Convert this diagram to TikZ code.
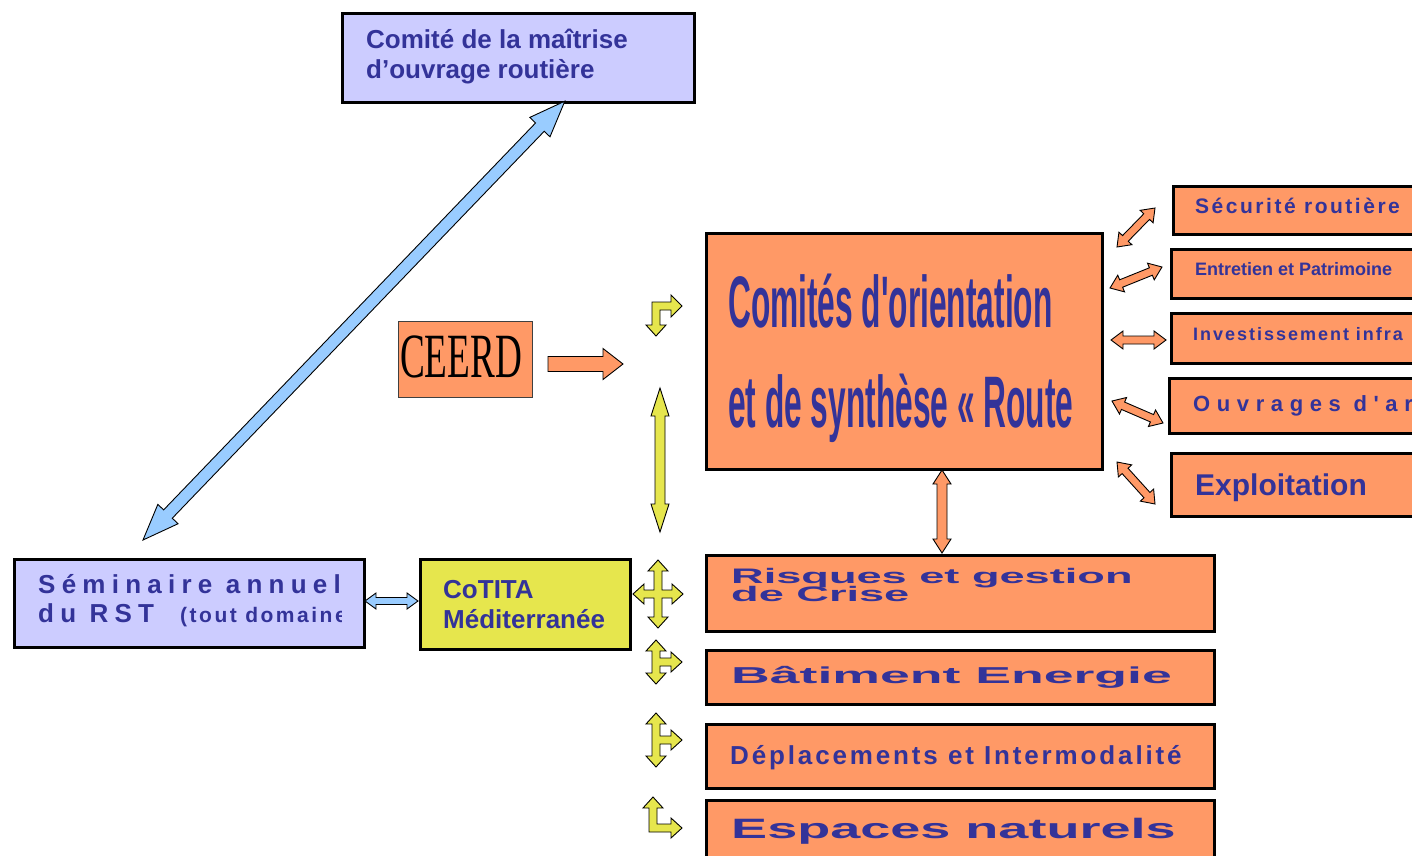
\documentclass[tikz,border=0pt]{standalone}
\usepackage{fontspec}
\usepackage{graphicx}
\setmainfont{Liberation Sans}[Ligatures=TeXOff]
\newfontfamily\ceerdfont{Liberation Serif}
\usetikzlibrary{calc}

\definecolor{boxorange}{RGB}{255,153,102}
\definecolor{boxlilac}{RGB}{204,204,255}
\definecolor{boxyellow}{RGB}{230,230,77}
\definecolor{arrowblue}{RGB}{153,204,255}
\definecolor{textblue}{RGB}{51,51,153}

\newcommand{\fsz}[1]{\fontsize{#1}{#1}\selectfont}
\newcommand{\ls}[1]{\addfontfeature{LetterSpace=#1}}

% block arrows between two named coordinates
\newcommand{\arrowsetup}[3]{%
  \pgfpointdiff{\pgfpointanchor{#1}{center}}{\pgfpointanchor{#2}{center}}%
  \pgfgetlastxy{\bax}{\bay}%
  \pgfmathsetmacro{\baang}{atan2(\bay,\bax)}%
  \pgfmathsetmacro{\balen}{veclen(\bax,\bay)}%
  \pgfmathsetmacro{\babase}{\balen-#3}}
\newcommand{\dblarrow}[6]{% style, from, to, shaft half width, head half width, head length
  \arrowsetup{#2}{#3}{#6}%
  \draw[#1, shift={(#2)}, rotate=\baang] (0pt,0pt) -- (#6pt,#5pt) -- (#6pt,#4pt)
    -- (\babase pt,#4pt) -- (\babase pt,#5pt) -- (\balen pt,0pt) -- (\babase pt,-#5pt)
    -- (\babase pt,-#4pt) -- (#6pt,-#4pt) -- (#6pt,-#5pt) -- cycle;}
\newcommand{\sglarrow}[6]{%
  \arrowsetup{#2}{#3}{#6}%
  \draw[#1, shift={(#2)}, rotate=\baang] (0pt,#4pt) -- (\babase pt,#4pt)
    -- (\babase pt,#5pt) -- (\balen pt,0pt) -- (\babase pt,-#5pt)
    -- (\babase pt,-#4pt) -- (0pt,-#4pt) -- cycle;}

\tikzset{
  cbox/.style={draw=black, line width=2.5pt, inner sep=0pt, anchor=north west},
  orangebox/.style={cbox, fill=boxorange},
  lilacbox/.style={cbox, fill=boxlilac},
  yellowbox/.style={cbox, fill=boxyellow},
  txt/.style={anchor=base west, inner sep=0pt, text=textblue},
  blockarr/.style={draw=black, line width=0.9pt, line join=miter},
  orangearr/.style={blockarr, fill=boxorange},
  bluearr/.style={blockarr, fill=arrowblue},
  yellowarr/.style={blockarr, fill=boxyellow},
}

\begin{document}
\begin{tikzpicture}[x=1pt, y=-1pt]
\useasboundingbox (0,0) rectangle (1412,855);
\clip (0,0) rectangle (1412,855);

% boxes
\node[lilacbox, minimum width=352pt, minimum height=89pt] (cmor) at (341,12) {};
\node[lilacbox, minimum width=350pt, minimum height=88pt] (sem) at (13,558) {};
\node[yellowbox, minimum width=210pt, minimum height=90pt] (cotita) at (419,558) {};
\node[orangebox, draw=black!75, line width=1pt, minimum width=134pt, minimum height=76pt] (ceerd) at (398,321) {};
\node[orangebox, minimum width=396pt, minimum height=236pt] (route) at (705,232) {};
\node[orangebox, minimum width=260pt, minimum height=48pt] (secu) at (1172,185) {};
\node[orangebox, minimum width=260pt, minimum height=49pt] (entr) at (1170,248) {};
\node[orangebox, minimum width=260pt, minimum height=50pt] (inv) at (1170,312) {};
\node[orangebox, minimum width=260pt, minimum height=55pt] (ouv) at (1168,377) {};
\node[orangebox, minimum width=260pt, minimum height=63pt] (expl) at (1170,452) {};
\node[orangebox, minimum width=508pt, minimum height=76pt] (risq) at (705,554) {};
\node[orangebox, minimum width=508pt, minimum height=54pt] (bat) at (705,649) {};
\node[orangebox, minimum width=508pt, minimum height=64pt] (depl) at (705,723) {};
\node[orangebox, minimum width=508pt, minimum height=80pt] (esp) at (705,799) {};

% texts
\node[txt, font=\fsz{26}\bfseries] (cmorA) at (366,48) {Comité de la maîtrise};
\node[txt, font=\fsz{26}\bfseries] (cmorB) at (366,78) {d’ouvrage routière};
\begin{scope}
  \clip (13,558) rectangle (341,646);
  \node[txt, font=\fsz{26}\bfseries] (semA) at (38,593) {\ls{24}Séminaire annuel};
  \node[txt, font=\fsz{26}\bfseries] (semB) at (38,622) {\ls{24}du RST};
  \node[txt, font=\fsz{21}\bfseries] (semC) at (180,622) {\ls{12}(tout domaine)};
\end{scope}
\node[txt, font=\fsz{26}\bfseries] (cotA) at (443,598) {CoTITA};
\node[txt, font=\fsz{26}\bfseries] (cotB) at (443,628) {Méditerranée};
\node[txt, text=black, font=\fsz{63}\ceerdfont] (ceerdT) at (400,377) {\scalebox{0.59}[1]{CEERD}};
\node[txt, font=\fsz{73}\bfseries] (routeA) at (728,327) {\scalebox{0.434}[1]{Comités d'orientation}};
\node[txt, font=\fsz{73}\bfseries] (routeB) at (728,427) {\scalebox{0.434}[1]{et de synthèse « Route}};
\node[txt, font=\fsz{21}\bfseries] (secuT) at (1195,213) {\ls{12}Sécurité routière};
\node[txt, font=\fsz{18}\bfseries] (entrT) at (1195,275) {Entretien et Patrimoine};
\node[txt, font=\fsz{18}\bfseries] (invT) at (1193,340) {\ls{11}Investissement infra};
\node[txt, font=\fsz{22}\bfseries] (ouvT) at (1193,411) {\ls{30}Ouvrages d'art};
\node[txt, font=\fsz{30}\bfseries] (explT) at (1195,495) {Exploitation};
\node[txt, font=\fsz{21}\bfseries] (risqA) at (731,583) {\scalebox{2.15}[1]{Risques et gestion}};
\node[txt, font=\fsz{21}\bfseries] (risqB) at (731,601) {\scalebox{2.15}[1]{de Crise}};
\node[txt, font=\fsz{23}\bfseries] (batT) at (731,683) {\scalebox{2.33}[1]{Bâtiment Energie}};
\node[txt, font=\fsz{26}\bfseries] (deplT) at (730,764) {\ls{11}Déplacements et Intermodalité};
\node[txt, font=\fsz{28}\bfseries] (espT) at (731,838) {\scalebox{1.93}[1]{Espaces naturels}};

% arrow ends
\coordinate (semTip) at (143,540);
\coordinate (cmorTip) at (565,101);
\coordinate (semR) at (365,601);
\coordinate (cotL) at (418,601);
\coordinate (ceerdTail) at (548,364);
\coordinate (ceerdHead) at (623,364);
\coordinate (yTop) at (660,388);
\coordinate (yBot) at (660,532);
\coordinate (routeS) at (942,470);
\coordinate (risqN) at (942,553);
\coordinate (r1a) at (1117,247); \coordinate (r1b) at (1155,208);
\coordinate (r2a) at (1110,288); \coordinate (r2b) at (1162,267);
\coordinate (r3a) at (1111,340); \coordinate (r3b) at (1166,340);
\coordinate (r4a) at (1112,401); \coordinate (r4b) at (1163,423);
\coordinate (r5a) at (1117,462); \coordinate (r5b) at (1155,504);

% connectors
\dblarrow{bluearr}{semTip}{cmorTip}{6}{14}{36}
\dblarrow{bluearr}{semR}{cotL}{3.5}{8}{11}
\sglarrow{orangearr}{ceerdTail}{ceerdHead}{7.5}{15.5}{20}
\dblarrow{yellowarr}{yTop}{yBot}{5}{9}{28}
\dblarrow{orangearr}{routeS}{risqN}{5}{9}{14}
\dblarrow{orangearr}{r1a}{r1b}{4}{9}{12}
\dblarrow{orangearr}{r2a}{r2b}{4}{9}{12}
\dblarrow{orangearr}{r3a}{r3b}{4}{9}{12}
\dblarrow{orangearr}{r4a}{r4b}{4}{9}{12}
\dblarrow{orangearr}{r5a}{r5b}{4}{9}{12}

% yellow bent and branching arrows
\draw[yellowarr] (682,306) -- (671,317) -- (671,310) -- (660,310) -- (660,325) -- (666,325)
  -- (656,336) -- (646,325) -- (652,325) -- (652,302) -- (671,302) -- (671,295) -- cycle;
\draw[yellowarr, shift={(658,594)}] (0,-34) -- (10,-23) -- (4,-23) -- (4,-4) -- (14,-4)
  -- (14,-10) -- (25,0) -- (14,10) -- (14,4) -- (4,4) -- (4,23) -- (10,23) -- (0,34)
  -- (-10,23) -- (-4,23) -- (-4,4) -- (-14,4) -- (-14,10) -- (-25,0) -- (-14,-10)
  -- (-14,-4) -- (-4,-4) -- (-4,-23) -- (-10,-23) -- cycle;
\draw[yellowarr, shift={(656,662)}] (0,-22) -- (10,-11) -- (4,-11) -- (4,-4) -- (15,-4)
  -- (15,-10) -- (26,0) -- (15,10) -- (15,4) -- (4,4) -- (4,11) -- (10,11) -- (0,22)
  -- (-10,11) -- (-4,11) -- (-4,-11) -- (-10,-11) -- cycle;
\draw[yellowarr, shift={(656,740)}] (0,-27) -- (10,-16) -- (4,-16) -- (4,-4) -- (15,-4)
  -- (15,-10) -- (26,0) -- (15,10) -- (15,4) -- (4,4) -- (4,16) -- (10,16) -- (0,27)
  -- (-10,16) -- (-4,16) -- (-4,-16) -- (-10,-16) -- cycle;
\draw[yellowarr] (653,797) -- (663,808) -- (657,808) -- (657,824) -- (671,824) -- (671,818)
  -- (682,828) -- (671,838) -- (671,832) -- (649,832) -- (649,808) -- (643,808) -- cycle;
\end{tikzpicture}
\end{document}
